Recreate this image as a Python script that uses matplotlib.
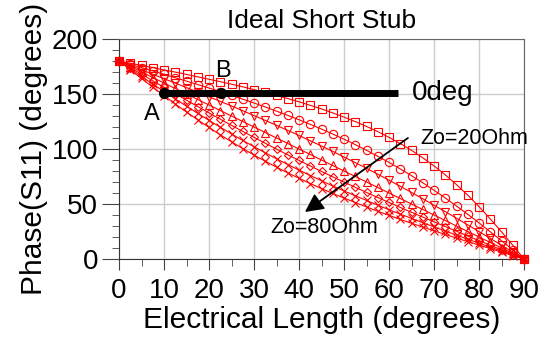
import matplotlib.pyplot as plt
from matplotlib.ticker import MultipleLocator

plt.rcParams['font.family'] = ['Liberation Sans', 'DejaVu Sans']

# electrical length of the stub, degrees
elec_len = [0, 2.5, 5, 7.5, 10, 12.5, 15, 17.5, 20, 22.5, 25, 27.5, 30,
            32.5, 35, 37.5, 40, 42.5, 45, 47.5, 50, 52.5, 55, 57.5, 60,
            62.5, 65, 67.5, 70, 72.5, 75, 77.5, 80, 82.5, 85, 87.5, 90]

# phase of S11 (degrees), one list per line impedance
ph_zo20 = [180, 178.0, 176.0, 174.0, 171.9, 169.9, 167.8, 165.6, 163.4, 161.2,
           158.9, 156.5, 154.0, 151.4, 148.7, 145.9, 142.9, 139.7, 136.4, 132.8,
           129.0, 124.9, 120.5, 115.8, 110.6, 104.9, 98.8, 92.0, 84.6, 76.5,
           67.6, 58.0, 47.6, 36.4, 24.7, 12.5, 0]
ph_zo30 = [180, 177.0, 174.0, 171.0, 167.9, 164.8, 161.7, 158.6, 155.4, 152.1,
           148.7, 145.3, 141.8, 138.2, 134.4, 130.6, 126.6, 122.4, 118.1, 113.6,
           108.9, 104.0, 98.8, 93.4, 87.8, 81.9, 75.7, 69.3, 62.5, 55.5,
           48.1, 40.6, 32.8, 24.7, 16.6, 8.3, 0]
ph_zo40 = [180, 176.0, 172.0, 168.0, 163.9, 159.9, 155.8, 151.7, 147.5, 143.3,
           139.1, 134.8, 130.4, 126.0, 121.5, 116.9, 112.3, 107.5, 102.7, 97.8,
           92.7, 87.6, 82.4, 77.1, 71.6, 66.1, 60.5, 54.8, 48.9, 43.0,
           37.1, 31.0, 24.9, 18.7, 12.5, 6.2, 0]
ph_zo50 = [180, 175, 170, 165, 160, 155, 150, 145, 140, 135,
           130, 125, 120, 115, 110, 105, 100, 95, 90, 85,
           80, 75, 70, 65, 60, 55, 50, 45, 40, 35,
           30, 25, 20, 15, 10, 5, 0]
ph_zo60 = [180, 174.0, 168.0, 162.0, 156.1, 150.2, 144.4, 138.6, 132.8, 127.1,
           121.5, 116.0, 110.6, 105.2, 99.9, 94.7, 89.6, 84.6, 79.6, 74.7,
           69.9, 65.2, 60.5, 55.9, 51.4, 46.9, 42.5, 38.1, 33.8, 29.5,
           25.2, 20.9, 16.7, 12.5, 8.3, 4.2, 0]
ph_zo70 = [180, 173.0, 166.0, 159.1, 152.3, 145.5, 138.9, 132.4, 126.0, 119.8,
           113.7, 107.8, 102.1, 96.5, 91.1, 85.9, 80.8, 75.9, 71.1, 66.4,
           61.9, 57.5, 53.2, 49.0, 44.8, 40.8, 36.9, 33.0, 29.2, 25.4,
           21.7, 18.0, 14.4, 10.7, 7.2, 3.6, 0]
ph_zo80 = [180, 172.0, 164.1, 156.2, 148.5, 140.9, 133.6, 126.5, 119.6, 112.9,
           106.6, 100.4, 94.5, 88.9, 83.5, 78.3, 73.4, 68.6, 64.0, 59.6,
           55.4, 51.3, 47.3, 43.4, 39.7, 36.0, 32.5, 29.1, 25.6, 22.3,
           19.0, 15.8, 12.6, 9.4, 6.3, 3.1, 0]

curves = [ph_zo20, ph_zo30, ph_zo40, ph_zo50, ph_zo60, ph_zo70, ph_zo80]
markers = ['s', 'o', 'v', '^', 'D', 'x', 'x']
msizes = [6, 6, 6, 6, 4.5, 6, 6]

# the 0deg reference line with points A and B
ref_x = [10, 62]
ref_y = [151, 151]
pt_x = [10, 22.7]
pt_y = [151, 151]

fig = plt.figure(figsize=(5.49, 3.41), dpi=100)
ax = fig.add_axes([0.2168, 0.2405, 0.7377, 0.6451])

for ph, mk, ms in zip(curves, markers, msizes):
    ax.plot(elec_len, ph, color='#ff0000', lw=0.8, marker=mk, ms=ms,
            mfc='none', mec='#ff0000', mew=0.8, clip_on=False, zorder=3)

ax.plot(ref_x, ref_y, color='black', lw=5, solid_capstyle='butt', zorder=4)
ax.plot(pt_x, pt_y, 'o', color='black', ms=7, zorder=5)

ax.text(7.3, 132, 'A', fontsize=17, ha='center', va='center')
ax.text(23, 170.5, 'B', fontsize=17, ha='center', va='center')
ax.text(65.1, 151, '0deg', fontsize=20, ha='left', va='center')
ax.text(66.9, 110, 'Zo=20Ohm', fontsize=15.5, ha='left', va='center')
ax.text(33.6, 29, 'Zo=80Ohm', fontsize=15.5, ha='left', va='center')
ax.annotate('', xy=(41.3, 42.7), xytext=(64.2, 110),
            arrowprops=dict(arrowstyle='-|>', color='black', lw=1.3,
                            mutation_scale=28, shrinkA=0, shrinkB=0))

ax.set_xlim(0, 90)
ax.set_ylim(0, 200)
ax.xaxis.set_major_locator(MultipleLocator(10))
ax.xaxis.set_minor_locator(MultipleLocator(5))
ax.yaxis.set_major_locator(MultipleLocator(50))
ax.yaxis.set_minor_locator(MultipleLocator(10))
ax.grid(True, which='major', color='#cccccc', lw=1)
ax.set_axisbelow(True)

ax.tick_params(axis='both', which='both', direction='out', color='#444444',
               labelsize=20, pad=3)
ax.tick_params(axis='x', which='both', pad=6)
ax.tick_params(axis='y', which='major', length=12)
ax.tick_params(axis='x', which='major', length=8)
ax.tick_params(axis='both', which='minor', length=5)
for side in ['top', 'right']:
    ax.spines[side].set_color('#666666')
for side in ['left', 'bottom']:
    ax.spines[side].set_color('#333333')

ax.set_title('Ideal Short Stub', fontsize=19, pad=8)
ax.set_xlabel('Electrical Length (degrees)', fontsize=21.5, labelpad=1)
ax.set_ylabel('Phase(S11) (degrees)', fontsize=21.5, labelpad=3)

fig.savefig('out.png', dpi=100)
